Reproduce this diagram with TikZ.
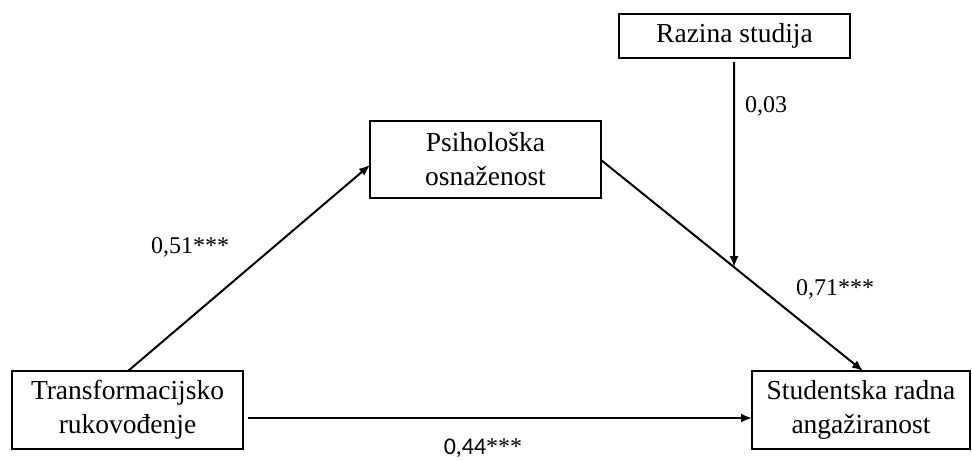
\documentclass[tikz,border=0pt]{standalone}
\usepackage{fontspec}
\setmainfont{Liberation Serif}
\newfontfamily\calfont{Carlito}
\usetikzlibrary{arrows.meta,calc}
\begin{document}
\begin{tikzpicture}[x=1pt,y=-1pt,
  box/.style={draw,line width=2.2pt,inner sep=0pt,align=center,
    font=\fontsize{27.5}{34}\selectfont},
  conn/.style={line width=2pt,-{Latex[length=11pt,width=9pt]}},
  lbl/.style={anchor=base,inner sep=0pt,font=\fontsize{24}{28}\selectfont}]
\useasboundingbox (0,0) rectangle (972,459);
\node[box,minimum width=231pt,minimum height=78pt] (T) at (127.5,410) {Transformacijsko\\rukovođenje};
\node[box,minimum width=231pt,minimum height=77pt] (P) at (485.5,159.5) {Psihološka\\osnaženost};
\node[box,minimum width=231pt,minimum height=44pt] (R) at (734.5,36) {Razina studija};
\node[box,minimum width=218pt,minimum height=78pt] (S) at (861,410) {Studentska radna\\angažiranost};
\coordinate (tstart) at (128,371);
\coordinate (pend) at (370,165);
\coordinate (hstart) at (248,418);
\coordinate (send) at (752,418);
\coordinate (pstart) at (601,160);
\coordinate (stop) at (863,371);
\coordinate (rstart) at (734,62);
\coordinate (rlow) at (734,400);
\draw[conn] (tstart) -- (pend);
\draw[conn] (hstart) -- (send);
\draw[conn] (pstart) -- (stop);
\draw[conn] (rstart) -- (intersection of rstart--rlow and pstart--stop);
\node[lbl] (l03) at (766,112) {0,03};
\node[lbl] (l51) at (190,253) {0,51***};
\node[lbl] (l71) at (835,295) {0,71***};
\node[lbl] (l44) at (483,454) {{\calfont 0,44}***};
\end{tikzpicture}
\end{document}
